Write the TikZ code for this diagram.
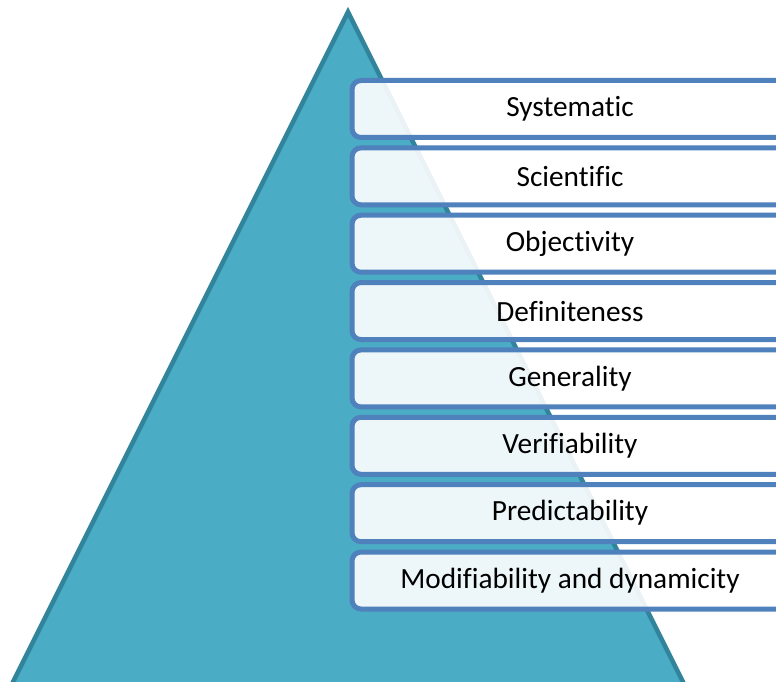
\documentclass[tikz,border=0pt]{standalone}
\usepackage{fontspec}
\setmainfont{Carlito}[Ligatures={NoCommon}]
\definecolor{trifill}{HTML}{4BACC6}
\definecolor{triline}{HTML}{31849B}
\definecolor{boxline}{HTML}{4F81BD}
\tikzset{
  pyr/.style={fill=trifill, draw=triline, line width=4.5pt, line join=miter},
  levelbox/.style={draw=boxline, line width=5pt, rounded corners=9pt, fill=white, fill opacity=0.9, text opacity=1,
    minimum width=436pt, minimum height=57pt, inner sep=0pt, anchor=west,
    font=\fontsize{29.3}{33}\selectfont, text=black}
}
\begin{document}
\begin{tikzpicture}[x=1pt,y=-1pt]
\useasboundingbox (0,0) rectangle (776,682);
\clip (0,0) rectangle (776,682);
\fill[white] (0,0) rectangle (776,682);
\draw[pyr] (348,12) -- (694,704) -- (2,704) -- cycle;
\foreach \t [count=\i] in {Systematic,Scientific,Objectivity,Definiteness,Generality,Verifiability,Predictability,Modifiability and dynamicity}{
  \node[levelbox] (b\i) at (349.5,{109+(\i-1)*67.36}) {\raisebox{-2pt}{\t}};
}
\end{tikzpicture}
\end{document}
